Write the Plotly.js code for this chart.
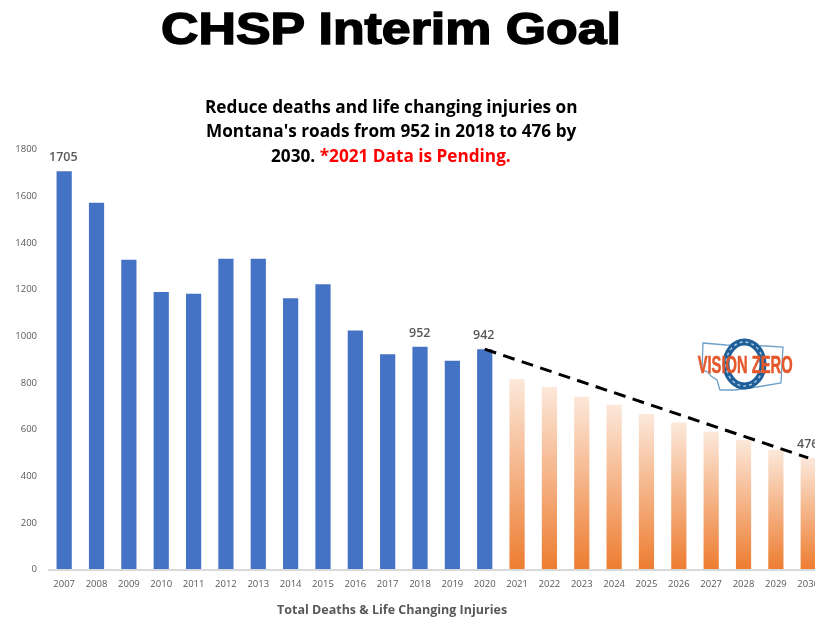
<!DOCTYPE html>
<html>
<head>
<meta charset="utf-8">
<script src="https://cdn.plot.ly/plotly-3.0.1.min.js"></script>
<style>
html,body{margin:0;padding:0;background:#fff;overflow:hidden;width:815px;height:617px}
#chart{width:830px;height:617px;filter:blur(0.45px)}
.gtitle{stroke:#000;stroke-width:1.5px}
</style>
</head>
<body>
<div id="chart"></div>
<script>
const actualYears = [2007,2008,2009,2010,2011,2012,2013,2014,2015,2016,2017,2018,2019,2020];
const actualValues = [1705,1570,1325,1187,1180,1330,1330,1160,1220,1022,920,952,892,942];
const goalYears = [2021,2022,2023,2024,2025,2026,2027,2028,2029,2030];
const goalValues = [814,780,738,704,664,628,589,553,511,476];
const trendYears = [2020,2030];
const trendValues = [942,476];
const labelYears = [2007,2018,2020,2030];
const labelValues = [1705,952,942,476];
const yTicks = [0,200,400,600,800,1000,1200,1400,1600,1800];
const xTicks = actualYears.concat(goalYears);
const subtitleLines = [
  "<b>Reduce deaths and life changing injuries on</b>",
  "<b>Montana's roads from 952 in 2018 to 476 by</b>",
  "<b>2030. <span style='color:#ff0000'>*2021 Data is Pending.</span></b>"
];

const W = 830, H = 617, L = 48, R = 0, T = 149, B = 48;
const px = x => (x - L) / (W - L - R);
const py = y => 1 - (y - T) / (H - T - B);
const stateOutline = [[703,343],[726,345],[766,346],[783,347],[781,383],[757,387],[735,390],[720,390],[717,380],[711,376],[708,372],[702,370]];
const statePath = 'M ' + stateOutline.map(p => px(p[0]).toFixed(4) + ',' + py(p[1]).toFixed(4)).join(' L ') + ' Z';
const logoShape = {xref:'paper', yref:'paper', layer:'above'};

const data = [
  {type:'bar', x:actualYears, y:actualValues, width:0.47, marker:{color:'#4472c4'}, hoverinfo:'x+y'},
  {type:'bar', x:goalYears, y:goalValues, width:0.47, marker:{color:'#ed7d31'}, hoverinfo:'x+y'},
  {type:'scatter', mode:'lines', x:trendYears, y:trendValues, line:{color:'#000', width:3, dash:'12px,7.5px'}, hoverinfo:'skip'}
];

const annotations = labelYears.map((yr,i) => ({
  x:yr, y:labelValues[i], xref:'x', yref:'y', text:String(labelValues[i]), showarrow:false,
  yanchor:'bottom', yshift:4, xshift:-0.8, font:{family:'Open Sans', size:12.5, color:'#595959', weight:600}
}));
[106.5,131,155.5].forEach((yp,i) => annotations.push({
  xref:'paper', yref:'paper', x:px(391), y:py(yp), xanchor:'center', yanchor:'middle', align:'center', showarrow:false,
  text:subtitleLines[i], font:{family:'Open Sans', size:17.2, color:'#000'}
}));
annotations.push(
  {xref:'paper', yref:'paper', x:px(391.5), y:py(609), xanchor:'center', yanchor:'middle', showarrow:false,
   text:'<b>Total Deaths &amp; Life Changing Injuries</b>', font:{family:'Open Sans', size:12.5, color:'#595959'}},
  {xref:'paper', yref:'paper', x:px(744.5), y:py(365), xanchor:'center', yanchor:'middle', showarrow:false,
   text:'<b>VISION ZERO</b>', font:{family:'Liberation Sans', size:23, color:'#e4572a'}}
);

const layout = {
  width:W, height:H, margin:{l:L, r:R, t:T, b:B, pad:0},
  paper_bgcolor:'#fff', plot_bgcolor:'#fff', showlegend:false, barmode:'overlay',
  title:{text:'<b>CHSP Interim Goal</b>', x:391/W, xanchor:'center', y:1-28/H, yanchor:'middle',
         font:{family:'Liberation Sans', size:44.7, color:'#000'}},
  xaxis:{range:[2006.5, 2006.5 + (W-L)/32.35], tickvals:xTicks, ticktext:xTicks.map(String), tickangle:0,
         showgrid:false, zeroline:false, showline:true, linecolor:'#d9d9d9', linewidth:1.5, ticks:'',
         ticklabelstandoff:5, tickfont:{family:'Open Sans', size:9.5, color:'#595959'}},
  yaxis:{range:[0,1800], tickvals:yTicks, showgrid:false, zeroline:false, showline:false, ticks:'',
         ticklabelstandoff:10, tickfont:{family:'Open Sans', size:9.5, color:'#595959'}},
  annotations:annotations,
  shapes:[
    Object.assign({}, logoShape, {type:'path', path:statePath, line:{color:'#6fa0c8', width:1.3}, fillcolor:'rgba(0,0,0,0)'}),
    Object.assign({}, logoShape, {type:'circle', x0:px(726), x1:px(763), y0:py(342), y1:py(386), line:{color:'#1f5f99', width:7}, fillcolor:'#fff'}),
    Object.assign({}, logoShape, {type:'circle', x0:px(726), x1:px(763), y0:py(342), y1:py(386), line:{color:'#a9c6de', width:1.5, dash:'dot'}, fillcolor:'rgba(0,0,0,0)'})
  ]
};

const gd = document.getElementById('chart');
Plotly.newPlot(gd, data, layout, {displayModeBar:false, responsive:false}).then(() => {
  const svg = gd.querySelector('svg.main-svg');
  const NS = 'http://www.w3.org/2000/svg';
  const grad = document.createElementNS(NS, 'linearGradient');
  grad.setAttribute('id', 'goalFade');
  grad.setAttribute('x1','0'); grad.setAttribute('y1','0'); grad.setAttribute('x2','0'); grad.setAttribute('y2','1');
  [['0','#fce8da'],['1','#ed7d31']].forEach(s => {
    const st = document.createElementNS(NS,'stop');
    st.setAttribute('offset', s[0]); st.setAttribute('stop-color', s[1]);
    grad.appendChild(st);
  });
  svg.querySelector('defs').appendChild(grad);
  const traces = gd.querySelectorAll('.barlayer .trace.bars');
  traces[1].querySelectorAll('.point path').forEach(p => { p.style.fill = 'url(#goalFade)'; });
  gd.querySelectorAll('.annotation-text').forEach(t => {
    if (t.textContent.indexOf('VISION ZERO') === 0) {
      t.setAttribute('textLength', '95');
      t.setAttribute('lengthAdjust', 'spacingAndGlyphs');
      t.style.stroke = '#e4572a';
      t.style.strokeWidth = '0.5px';
      t.style.paintOrder = 'stroke';
    }
  });
  const title = gd.querySelector('.gtitle');
  if (title) {
    title.setAttribute('textLength', '460');
    title.setAttribute('lengthAdjust', 'spacingAndGlyphs');
  }
});
</script>
</body>
</html>
